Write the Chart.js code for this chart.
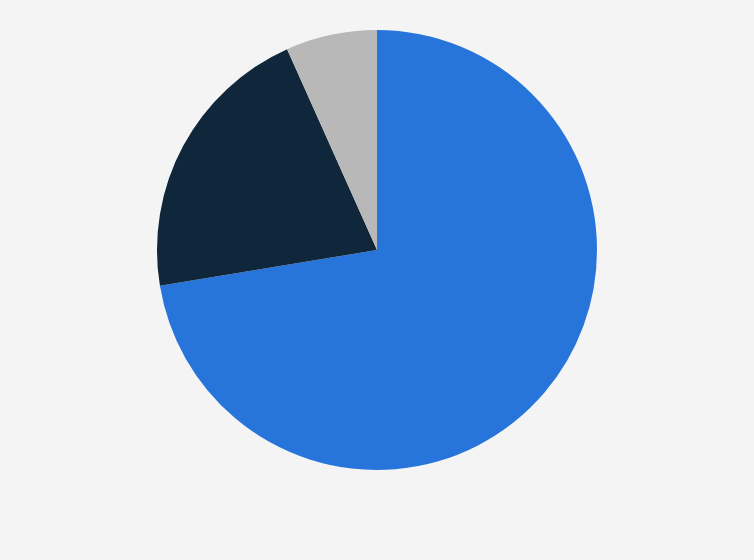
<!DOCTYPE html>
<html>
<head>
<meta charset="utf-8">
<script src="https://cdn.jsdelivr.net/npm/chart.js@4/dist/chart.umd.min.js"></script>
<style>
  html, body { margin: 0; padding: 0; background: #f4f4f4; }
  #wrap { width: 754px; height: 560px; position: relative; }
</style>
</head>
<body>
<div id="wrap"><canvas id="chart"></canvas></div>
<script>
// Slice data, clockwise from 12 o'clock
const labels = ['Segment A', 'Segment B', 'Segment C'];
const shares = [72.4, 20.9, 6.7];
const colors = ['#2775db', '#0f263b', '#b8b8b8'];

const ctx = document.getElementById('chart').getContext('2d');
new Chart(ctx, {
  type: 'pie',
  data: {
    labels: labels,
    datasets: [{
      data: shares,
      backgroundColor: colors,
      borderWidth: 0
    }]
  },
  options: {
    responsive: true,
    maintainAspectRatio: false,
    animation: false,
    layout: { padding: { top: 30, bottom: 90, left: 0, right: 0 } },
    plugins: {
      legend: { display: false },
      tooltip: { enabled: false }
    }
  }
});
</script>
</body>
</html>
